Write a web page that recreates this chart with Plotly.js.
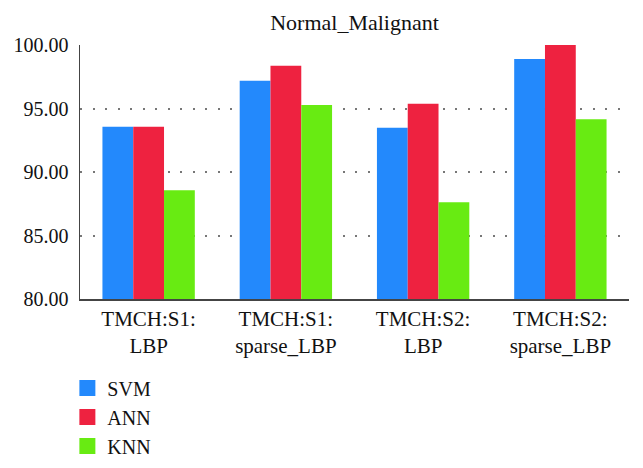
<!DOCTYPE html>
<html>
<head>
<meta charset="utf-8">
<script src="https://cdn.plot.ly/plotly-3.0.1.min.js"></script>
<style>html,body{margin:0;padding:0;background:#fff;}#chart{width:643px;height:468px;}</style>
</head>
<body>
<div id="chart"></div>
<script>
var categories = ["TMCH:S1:<br>LBP", "TMCH:S1:<br>sparse_LBP", "TMCH:S2:<br>LBP", "TMCH:S2:<br>sparse_LBP"];
var seriesNames = ["SVM", "ANN", "KNN"];
var svmValues = [93.57, 97.19, 93.49, 98.89];
var annValues = [93.57, 98.37, 95.38, 100.00];
var knnValues = [88.56, 95.28, 87.61, 94.16];
var yTickValues = [80, 85, 90, 95, 100];
var colors = ["#2389fc", "#ee2240", "#68eb12"];

var seriesValues = [svmValues, annValues, knnValues];
var FONT = 'Liberation Serif, Times New Roman, Tinos, DejaVu Serif, serif';

var traces = [];
seriesValues.forEach(function (vals, i) {
  traces.push({
    type: 'bar', x: categories, y: vals, name: seriesNames[i],
    marker: {color: colors[i], line: {width: 0}},
    showlegend: false, hoverinfo: 'y'
  });
});
seriesValues.forEach(function (vals, i) {
  traces.push({
    type: 'scatter', mode: 'markers', x: [null], y: [null], name: seriesNames[i],
    marker: {symbol: 'square', size: 16, color: colors[i]},
    showlegend: true, legendgroup: 'g' + i
  });
});

var layout = {
  width: 643, height: 468,
  margin: {l: 80, r: 14, t: 45, b: 169},
  paper_bgcolor: '#fff', plot_bgcolor: '#fff',
  font: {family: FONT, size: 21, color: '#111'},
  title: {text: 'Normal_Malignant', font: {family: FONT, size: 22, color: '#111'},
          xref: 'paper', x: 0.5, xanchor: 'center', yref: 'container', y: 1 - 22/468, yanchor: 'middle'},
  barmode: 'group', bargap: 0.327, bargroupgap: 0,
  xaxis: {
    type: 'category', showgrid: false, zeroline: false,
    showline: true, linecolor: '#444', linewidth: 1.5,
    ticks: '', tickfont: {family: FONT, size: 21, color: '#111'}
  },
  yaxis: {
    range: [80, 100], tickvals: yTickValues, tickformat: '.2f',
    showline: true, linecolor: '#444', linewidth: 1.5, zeroline: false,
    showgrid: true, gridcolor: '#777', gridwidth: 2, griddash: '2px,10.5px',
    ticks: '', ticklabelstandoff: 6, tickfont: {family: FONT, size: 20, color: '#111'}
  },
  showlegend: true,
  legend: {
    x: -0.023, xanchor: 'left', xref: 'paper', y: 1 - 417/468, yref: 'container', yanchor: 'middle',
    orientation: 'v', traceorder: 'grouped', tracegroupgap: 0,
    font: {family: FONT, size: 20, color: '#111'}, bgcolor: 'rgba(0,0,0,0)'
  }
};

Plotly.newPlot('chart', traces, layout, {displayModeBar: false, staticPlot: true});
</script>
</body>
</html>
